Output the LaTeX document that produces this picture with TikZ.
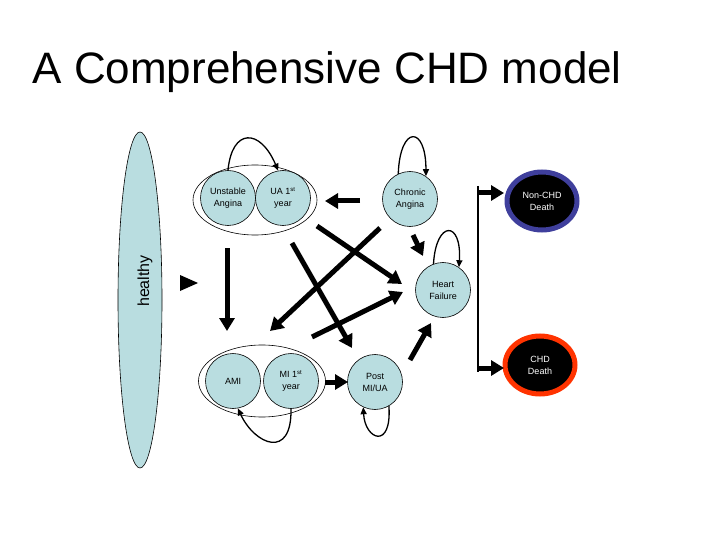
\documentclass[tikz,border=0pt]{standalone}
\usepackage{fontspec}
\setmainfont{Liberation Sans}
\usepackage{tikz}
\usetikzlibrary{arrows.meta,positioning,shapes.geometric}
\definecolor{stateblue}{HTML}{B9DDE0}
\definecolor{deathblue}{HTML}{3F3F9C}
\definecolor{deathred}{HTML}{FF3300}
\tikzset{
  % tilstande
  st/.style={circle,draw=black,fill=stateblue,line width=0.6pt,inner sep=0pt,
             minimum size=55pt,align=center,font=\fontsize{9}{12}\selectfont},
  grp/.style={ellipse,draw=black,line width=0.6pt,inner sep=0pt},
  dead/.style={ellipse,fill=black,line width=5pt,inner sep=0pt,minimum width=70pt,
               minimum height=58pt,align=center,text=white,font=\fontsize{9}{12}\selectfont},
  % pile
  big/.style={-{Triangle[length=13pt,width=15pt]},line width=5pt},
  selfloop/.style={-{Triangle[length=7pt,width=6pt]},line width=1.3pt},
}
\begin{document}
\begin{tikzpicture}[x=1pt,y=-1pt]
  \useasboundingbox (0,0) rectangle (720,540);
  \node[anchor=base west,font=\fontsize{44}{50}\selectfont] (title) at (29,84) {A Comprehensive CHD model};
  \node[ellipse,draw=black,fill=stateblue,line width=0.6pt,inner sep=0pt,
        minimum width=44pt,minimum height=336pt] (healthy) at (140,300) {};
  \node[rotate=90,font=\fontsize{16}{18}\selectfont] (healthytxt) at (145,281) {healthy};
  \fill (180,275) -- (198,283) -- (180,291) -- cycle;
  % grupper
  \node[grp,minimum width=124pt,minimum height=70pt] (uagrp) at (255,200) {};
  \node[grp,minimum width=127pt,minimum height=72pt] (migrp) at (262,381) {};
  \node[st] (ua) at (228,198) {Unstable\\Angina};
  \node[st] (ua1) at (283,198) {UA 1\textsuperscript{st}\\year};
  \node[st] (ca) at (410,199) {Chronic\\Angina};
  \node[st] (hf) at (443,290) {Heart\\Failure};
  \node[st] (ami) at (233,381) {AMI};
  \node[st] (mi1) at (291,381) {MI 1\textsuperscript{st}\\year};
  \node[st] (post) at (375,382) {Post\\MI/UA};
  \node[dead,draw=deathblue] (ncd) at (542,201) {Non-CHD\\Death};
  \node[dead,draw=deathred] (chd) at (540,365) {CHD\\Death};
  % endepunkter
  \coordinate (bartop) at (478,186);
  \coordinate (barbot) at (478,372);
  \coordinate (ncdin) at (504,193);
  \coordinate (chdin) at (504,368);
  \coordinate (caout) at (360,201);
  \coordinate (uain) at (325,201);
  \coordinate (uaout) at (227,248);
  \coordinate (amiin) at (227,331);
  \coordinate (ua1out) at (317,226);
  \coordinate (hfin1) at (402,284);
  \coordinate (caout2) at (380,228);
  \coordinate (miin) at (270,331);
  \coordinate (uaout2) at (292,243);
  \coordinate (postin) at (352,348);
  \coordinate (miout) at (312,337);
  \coordinate (hfin2) at (403,292);
  \coordinate (postout) at (410,360);
  \coordinate (hfin3) at (431,323);
  \coordinate (caout3) at (413,235);
  \coordinate (hfin4) at (423,256);
  \coordinate (grpout) at (325,382);
  \coordinate (postin2) at (348,382);
  % overgange
  \draw[line width=1.3pt] (bartop) -- (barbot);
  \draw[big] (bartop |- ncdin) -- (ncdin);
  \draw[big] (barbot |- chdin) -- (chdin);
  \draw[big] (caout) -- (uain);
  \draw[big] (uaout) -- (amiin);
  \draw[big] (ua1out) -- (hfin1);
  \draw[big] (caout2) -- (miin);
  \draw[big] (uaout2) -- (postin);
  \draw[big] (miout) -- (hfin2);
  \draw[big] (postout) -- (hfin3);
  \draw[big] (caout3) -- (hfin4);
  \draw[big] (grpout) -- (postin2);
  % selvloekker
  \draw[selfloop] (ua.north) .. controls (232,128) and (260,128) .. (ua1.100);
  \draw[selfloop] (ca.115) .. controls (400,125) and (426,125) .. (ca.55);
  \draw[selfloop] (hf.110) .. controls (436,220) and (462,220) .. (hf.55);
  \draw[selfloop] (post.-60) .. controls (392,450) and (365,440) .. (post.-115);
  \draw[selfloop] (mi1.-90) .. controls (292,460) and (255,445) .. (ami.-80);
\end{tikzpicture}
\end{document}
